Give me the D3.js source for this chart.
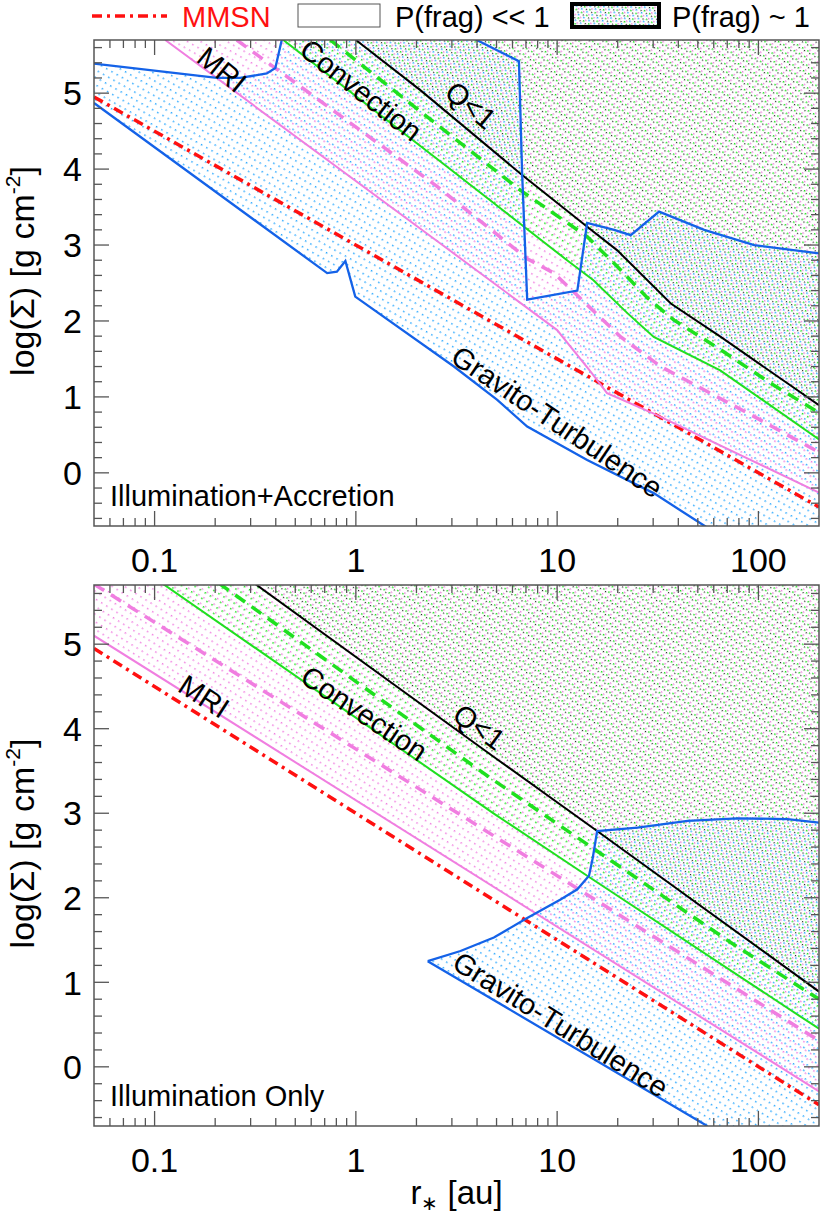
<!DOCTYPE html>
<html>
<head>
<meta charset="utf-8">
<script src="https://cdn.jsdelivr.net/npm/d3@7"></script>
<style>
  body { margin: 0; background: #fff; }
  svg { display: block; font-family: "Liberation Sans", Arial, Helvetica, sans-serif; }
</style>
</head>
<body>
<div id="chart"></div>
<script>
// ---- data: every point is [r (au), log Sigma (g cm^-2)] ----
const mmsn = [[0.05, 4.95], [200, -0.45]];

// Illumination + Accretion
const accMri = [[0.113, 5.70], [2.63, 3.02], [10.0, 1.88], [14.7, 1.33], [17.7, 1.05], [30.2, 0.78], [200, -0.26]];
const accMriDash = [[0.256, 5.70], [2.54, 3.77], [7.1, 2.82], [9.64, 2.63], [20.7, 1.79], [32.7, 1.40], [95.3, 0.74], [200, 0.27]];
const accConv = [[0.436, 5.70], [2.63, 4.10], [11.2, 2.80], [15.1, 2.54], [22.4, 2.10], [30.2, 1.79], [64.6, 1.35], [200, 0.44]];
const accConvDash = [[0.746, 5.70], [2.09, 4.76], [6.58, 3.72], [14.1, 3.11], [19.5, 2.74], [28.2, 2.30], [38.1, 2.01], [65.0, 1.62], [115, 1.18], [200, 0.79]];
const accQ = [[1.0, 5.70], [2.09, 5.04], [6.58, 3.94], [14.1, 3.24], [19.9, 2.93], [36.7, 2.23], [65.0, 1.79], [200, 0.89]];
const accGtLow = [[0.05, 4.87], [0.72, 2.63], [0.805, 2.65], [0.887, 2.79], [0.993, 2.32], [3.07, 1.40], [5.04, 0.96], [7.1, 0.61], [14.1, 0.17], [30.3, -0.27], [54.8, -0.71], [70, -0.95]];
const accGtUp = [[0.05, 5.39], [0.204, 5.20], [0.266, 5.20], [0.361, 5.26], [0.398, 5.33], [0.43, 5.72], [0.43, 5.9], [3.85, 5.9], [3.85, 5.72], [6.46, 5.42], [6.70, 3.94], [7.10, 2.28], [12.6, 2.40], [14.1, 3.29], [19.2, 3.20], [23.2, 3.13], [32.1, 3.44], [53.8, 3.20], [95.3, 3.00], [200, 2.89]];

// Illumination only
const illMri = [[0.05, 5.10], [200, -0.29]];
const illMriDash = [[0.05, 5.71], [200, 0.31]];
const illConv = [[0.109, 5.72], [4.89, 2.99], [14.1, 2.26], [200, 0.45]];
const illConvDash = [[0.209, 5.72], [4.51, 3.44], [72.9, 1.47], [200, 0.80]];
const illQ = [[0.313, 5.72], [4.89, 3.66], [15.8, 2.79], [200, 0.89]];
const illGtLow = [[2.275, 1.25], [54.8, -0.69], [70, -0.95]];
const illGtUp = [[2.275, 1.25], [3.31, 1.37], [4.85, 1.53], [7.10, 1.76], [10.4, 1.98], [12.6, 2.10], [14.4, 2.26], [15.0, 2.46], [15.8, 2.79], [25.1, 2.83], [44.5, 2.91], [78.7, 2.94], [139.6, 2.93], [200, 2.89]];

const xTickValues = [0.1, 1, 10, 100];
const xTickLabels = ['0.1', '1', '10', '100'];
const yTickValues = [0, 1, 2, 3, 4, 5];
const panelTitles = ['Illumination+Accretion', 'Illumination Only'];

// ---- layout ----
const W = 822, H = 1222;
const X0 = 94, X1 = 819;
const C = {
  red: '#ff1010', pink: '#f07ee0', green: '#1fe01f', black: '#000',
  blue: '#1462e8', cyan: '#2aa8ff', axis: '#555'
};

const svg = d3.select('#chart').append('svg').attr('width', W).attr('height', H);
const defs = svg.append('defs');

const x = d3.scaleLog().domain([0.05, 200]).range([X0, X1]);

// dotted line-fill patterns (one lattice per colour, shifted so they interleave)
function addPattern(id, color, angle, ox, oy, size) {
  const p = defs.append('pattern')
    .attr('id', id)
    .attr('patternUnits', 'userSpaceOnUse')
    .attr('width', 6).attr('height', 6.5)
    .attr('patternTransform', `rotate(${angle}) translate(${ox},${oy})`);
  p.append('rect').attr('width', size).attr('height', size).attr('fill', color);
}

const panels = [
  {
    y0: 40, y1: 526, angle: 29.5,
    mri: accMri, mriDash: accMriDash, conv: accConv, convDash: accConvDash, q: accQ,
    gtLow: accGtLow, gtUp: accGtUp,
    notes: [
      { t: 'MRI', r: 0.216, s: 5.31, a: 39 },
      { t: 'Convection', r: 1.06, s: 5.04, a: 38 },
      { t: 'Q<1', r: 3.72, s: 4.84, a: 40 },
      { t: 'Gravito-Turbulence', r: 10.0, s: 0.67, a: 34 }
    ]
  },
  {
    y0: 585, y1: 1126, angle: 32,
    mri: illMri, mriDash: illMriDash, conv: illConv, convDash: illConvDash, q: illQ,
    gtLow: illGtLow, gtUp: illGtUp,
    notes: [
      { t: 'MRI', r: 0.176, s: 4.38, a: 33 },
      { t: 'Convection', r: 1.10, s: 4.18, a: 34 },
      { t: 'Q<1', r: 4.1, s: 4.02, a: 36 },
      { t: 'Gravito-Turbulence', r: 10.4, s: 0.50, a: 32 }
    ]
  }
];

panels.forEach((cfg, i) => {
  const y = d3.scaleLinear().domain([-0.7, 5.7]).range([cfg.y1, cfg.y0]);
  const line = d3.line().x(d => x(d[0])).y(d => y(d[1]));

  addPattern('pc' + i, C.cyan, cfg.angle, 0, 0, 1.5);
  addPattern('pp' + i, C.pink, cfg.angle, 3, 1.6, 1.5);
  addPattern('pg' + i, C.green, cfg.angle, 1.5, 3.2, 1.5);
  addPattern('pk' + i, '#222', cfg.angle, 4.5, 4.8, 1.2);

  defs.append('clipPath').attr('id', 'clip' + i)
    .append('rect')
    .attr('x', X0).attr('y', cfg.y0)
    .attr('width', X1 - X0).attr('height', cfg.y1 - cfg.y0);

  const g = svg.append('g').attr('clip-path', `url(#clip${i})`);

  // region above a boundary line
  const above = pts => line(pts.concat([[pts[pts.length - 1][0], 7], [pts[0][0], 7]])) + 'Z';
  const last = cfg.gtUp[cfg.gtUp.length - 1];
  const gtPoly = cfg.gtLow.concat([[300, -1], [300, last[1]]], cfg.gtUp.slice().reverse());

  g.append('path').attr('d', line(gtPoly) + 'Z').attr('fill', `url(#pc${i})`);
  g.append('path').attr('d', above(cfg.mri)).attr('fill', `url(#pp${i})`);
  g.append('path').attr('d', above(cfg.conv)).attr('fill', `url(#pg${i})`);
  g.append('path').attr('d', above(cfg.q)).attr('fill', `url(#pk${i})`);

  const stroke = (pts, color, w, dash) => g.append('path')
    .attr('d', line(pts)).attr('fill', 'none')
    .attr('stroke', color).attr('stroke-width', w)
    .attr('stroke-dasharray', dash || null);

  stroke(mmsn, C.red, 3.5, '10,5,3,5');
  stroke(cfg.mri, C.pink, 2);
  stroke(cfg.mriDash, C.pink, 3.5, '12,8');
  stroke(cfg.conv, C.green, 2);
  stroke(cfg.convDash, C.green, 3.5, '12,8');
  stroke(cfg.q, C.black, 2);
  stroke(cfg.gtLow, C.blue, 2.3);
  stroke(cfg.gtUp, C.blue, 2.3);

  // region labels
  g.selectAll('text.note').data(cfg.notes).join('text')
    .attr('class', 'note')
    .attr('transform', d => `translate(${x(d.r)},${y(d.s)}) rotate(${d.a})`)
    .attr('text-anchor', 'middle')
    .attr('dominant-baseline', 'central')
    .attr('font-size', 29)
    .text(d => d.t);

  svg.append('text')
    .attr('x', X0 + 16).attr('y', cfg.y1 - 20)
    .attr('font-size', 29)
    .text(panelTitles[i]);

  // frame
  svg.append('rect')
    .attr('x', X0).attr('y', cfg.y0)
    .attr('width', X1 - X0).attr('height', cfg.y1 - cfg.y0)
    .attr('fill', 'none').attr('stroke', C.axis).attr('stroke-width', 1.5);

  // ticks (inward, on all four sides)
  const ticks = svg.append('g').attr('stroke', C.axis).attr('stroke-width', 1.3);
  const xMinor = [];
  for (let e = -2; e <= 2; e++) {
    for (let k = 2; k <= 9; k++) {
      const v = k * Math.pow(10, e);
      if (v > 0.05 && v < 200) xMinor.push(v);
    }
  }
  xMinor.concat(xTickValues).forEach(v => {
    const len = xTickValues.includes(v) ? 15 : 8;
    ticks.append('line').attr('x1', x(v)).attr('x2', x(v)).attr('y1', cfg.y1).attr('y2', cfg.y1 - len);
    ticks.append('line').attr('x1', x(v)).attr('x2', x(v)).attr('y1', cfg.y0).attr('y2', cfg.y0 + len);
  });
  d3.range(-6, 57, 2).map(v => v / 10).forEach(v => {
    const len = Math.abs(v - Math.round(v)) < 1e-6 ? 15 : 8;
    ticks.append('line').attr('x1', X0).attr('x2', X0 + len).attr('y1', y(v)).attr('y2', y(v));
    ticks.append('line').attr('x1', X1).attr('x2', X1 - len).attr('y1', y(v)).attr('y2', y(v));
  });

  // tick labels
  svg.append('g').selectAll('text').data(xTickValues).join('text')
    .attr('x', d => x(d)).attr('y', cfg.y1 + 46)
    .attr('text-anchor', 'middle').attr('font-size', 34)
    .text((d, j) => xTickLabels[j]);
  svg.append('g').selectAll('text').data(yTickValues).join('text')
    .attr('x', 82).attr('y', d => y(d)).attr('dy', '0.36em')
    .attr('text-anchor', 'end').attr('font-size', 34)
    .text(d => d);

  // y title
  const yt = svg.append('text')
    .attr('transform', `translate(34,${(cfg.y0 + cfg.y1) / 2 - 12}) rotate(-90)`)
    .attr('text-anchor', 'middle').attr('font-size', 34);
  yt.append('tspan').text('log(Σ) [g cm');
  yt.append('tspan').attr('font-size', 21).attr('dy', -14).text('-2');
  yt.append('tspan').attr('dy', 14).text(']');
});

// x title
const xt = svg.append('text')
  .attr('x', (X0 + X1) / 2).attr('y', 1204)
  .attr('text-anchor', 'middle').attr('font-size', 33);
xt.append('tspan').text('r');
xt.append('tspan').attr('font-size', 20).attr('dy', 6).text('∗');
xt.append('tspan').attr('dy', -6).text(' [au]');

// legend
const lg = svg.append('g');
lg.append('line').attr('x1', 92).attr('x2', 167).attr('y1', 16).attr('y2', 16)
  .attr('stroke', C.red).attr('stroke-width', 3.5).attr('stroke-dasharray', '10,5,3,5');
lg.append('text').attr('x', 182).attr('y', 27).attr('font-size', 29).attr('fill', C.red).text('MMSN');
lg.append('rect').attr('x', 298).attr('y', 4).attr('width', 82).attr('height', 23)
  .attr('fill', 'none').attr('stroke', '#555').attr('stroke-width', 1);
lg.append('text').attr('x', 395).attr('y', 27).attr('font-size', 29).text('P(frag) << 1');
['pc0', 'pp0', 'pg0', 'pk0'].forEach(id => {
  lg.append('rect').attr('x', 572).attr('y', 4).attr('width', 87).attr('height', 23).attr('fill', `url(#${id})`);
});
lg.append('rect').attr('x', 572).attr('y', 4).attr('width', 87).attr('height', 23)
  .attr('fill', 'none').attr('stroke', '#000').attr('stroke-width', 4);
lg.append('text').attr('x', 672).attr('y', 27).attr('font-size', 29).text('P(frag) ~ 1');
</script>
</body>
</html>
